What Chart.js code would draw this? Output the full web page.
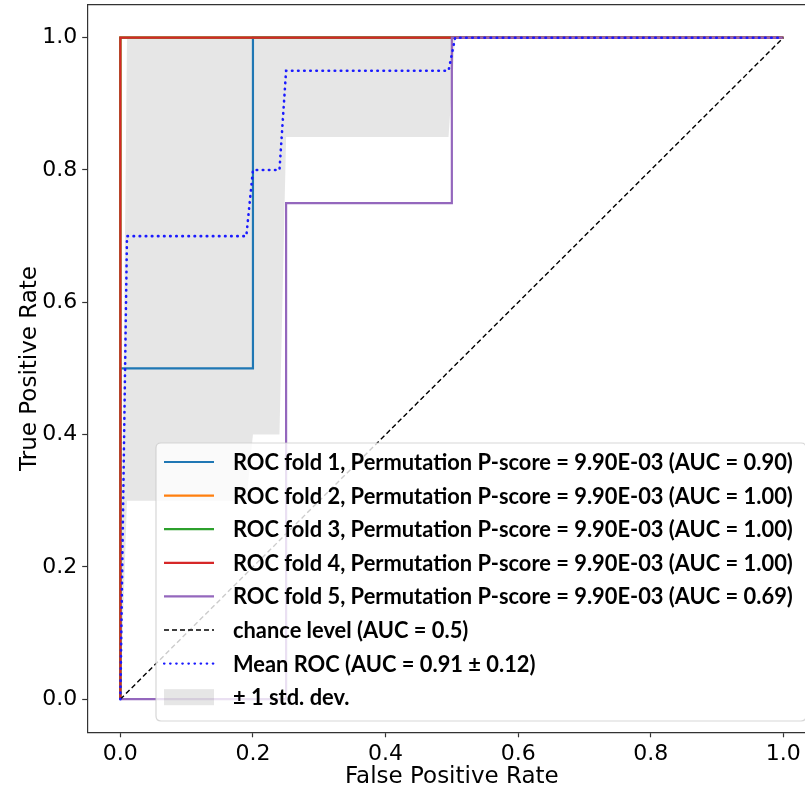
<!DOCTYPE html>
<html><head><meta charset="utf-8">
<script src="https://cdn.jsdelivr.net/npm/chart.js@4.4.0/dist/chart.umd.min.js"></script>
<style>
html,body{margin:0;padding:0;background:#fff;overflow:hidden;width:805px;height:794px}
#wrap{width:840px;height:794px}
</style></head>
<body><div id="wrap"><canvas id="c" width="840" height="794"></canvas></div>
<script>
// ---- data ----
const fold1Fpr = [0, 0, 0.2, 0.2, 1];
const fold1Tpr = [0, 0.5, 0.5, 1, 1];
const fold2Fpr = [0, 0, 1];
const fold2Tpr = [0, 1, 1];
const fold3Fpr = [0, 0, 1];
const fold3Tpr = [0, 1, 1];
const fold4Fpr = [0, 0, 1];
const fold4Tpr = [0, 1, 1];
const fold5Fpr = [0, 0.25, 0.25, 0.5, 0.5, 1];
const fold5Tpr = [0, 0, 0.75, 0.75, 1, 1];
const chanceX = [0, 1];
const chanceY = [0, 1];
const meanFpr = [0, 0.01, 0.19, 0.2, 0.24, 0.25, 0.495, 0.505, 1];
const meanTpr = [0, 0.7, 0.7, 0.8, 0.8, 0.95, 0.95, 1, 1];
const stdUpper = [0, 1, 1, 1, 1, 1, 1, 1, 1];
const stdLower = [0, 0.3, 0.3, 0.4, 0.4, 0.85, 0.85, 1, 1];
const xTicks = [0, 0.2, 0.4, 0.6, 0.8, 1.0];
const yTicks = [0, 0.2, 0.4, 0.6, 0.8, 1.0];
const legendLabels = [
  "ROC fold 1, Permutation P-score = 9.90E-03 (AUC = 0.90)",
  "ROC fold 2, Permutation P-score = 9.90E-03 (AUC = 1.00)",
  "ROC fold 3, Permutation P-score = 9.90E-03 (AUC = 1.00)",
  "ROC fold 4, Permutation P-score = 9.90E-03 (AUC = 1.00)",
  "ROC fold 5, Permutation P-score = 9.90E-03 (AUC = 0.69)",
  "chance level (AUC = 0.5)",
  "Mean ROC (AUC = 0.91 \u00b1 0.12)",
  "\u00b1 1 std. dev."
];
const xTitle = "False Positive Rate";
const yTitle = "True Positive Rate";

// ---- build ----
const pts = (xs, ys) => xs.map((x, i) => ({x: x, y: ys[i]}));
const bandColor = 'rgba(128,128,128,0.2)';
function lineDs(xs, ys, color, order, extra) {
  return Object.assign({
    data: pts(xs, ys), borderColor: color, backgroundColor: color,
    borderWidth: 2.2, pointRadius: 0, fill: false, tension: 0, order: order,
    showLine: true
  }, extra || {});
}
const datasets = [
  lineDs(meanFpr, stdUpper, 'rgba(0,0,0,0)', 100, {fill: '+1', backgroundColor: bandColor, borderWidth: 0, legendIdx: 7}),
  lineDs(meanFpr, stdLower, 'rgba(0,0,0,0)', 101, {borderWidth: 0}),
  lineDs(fold1Fpr, fold1Tpr, '#1f77b4', 9, {legendIdx: 0}),
  lineDs(fold2Fpr, fold2Tpr, '#ff7f0e', 8, {legendIdx: 1}),
  lineDs(fold3Fpr, fold3Tpr, '#2ca02c', 7, {legendIdx: 2}),
  lineDs(fold4Fpr, fold4Tpr, '#d62728', 6, {legendIdx: 3}),
  lineDs(fold5Fpr, fold5Tpr, '#9467bd', 5, {legendIdx: 4}),
  lineDs(chanceX, chanceY, '#000000', 4, {borderWidth: 1.4, borderDash: [5, 3], legendIdx: 5}),
  lineDs(meanFpr, meanTpr, '#1a1aff', 3, {borderWidth: 2.6, borderDash: [0.5, 5.6], borderCapStyle: 'round', legendIdx: 6})
];

const boxPlugin = {
  id: 'box',
  afterDatasetsDraw(chart) {
    const {ctx, chartArea: a} = chart;
    ctx.save();
    ctx.strokeStyle = '#333';
    ctx.lineWidth = 1.2;
    ctx.beginPath();
    ctx.moveTo(a.left, a.top); ctx.lineTo(a.right, a.top); ctx.lineTo(a.right, a.bottom);
    ctx.stroke();
    ctx.restore();
  }
};

const legendPlugin = {
  id: 'boxLegend',
  afterDraw(chart) {
    const ctx = chart.ctx;
    const bx = 156, by = 443, bw = 650, bh = 278, r = 5;
    ctx.save();
    ctx.beginPath();
    ctx.moveTo(bx + r, by); ctx.lineTo(bx + bw - r, by); ctx.quadraticCurveTo(bx + bw, by, bx + bw, by + r);
    ctx.lineTo(bx + bw, by + bh - r); ctx.quadraticCurveTo(bx + bw, by + bh, bx + bw - r, by + bh);
    ctx.lineTo(bx + r, by + bh); ctx.quadraticCurveTo(bx, by + bh, bx, by + bh - r);
    ctx.lineTo(bx, by + r); ctx.quadraticCurveTo(bx, by, bx + r, by);
    ctx.closePath();
    ctx.fillStyle = 'rgba(255,255,255,0.8)';
    ctx.fill();
    ctx.strokeStyle = 'rgba(204,204,204,0.8)';
    ctx.lineWidth = 1.2;
    ctx.stroke();

    let size = 21;
    ctx.font = 'bold ' + size + 'px Lato';
    const w = ctx.measureText(legendLabels[0]).width;
    size = size * 560 / w;
    ctx.font = 'bold ' + size.toFixed(2) + 'px Lato';
    ctx.fillStyle = '#000';
    ctx.textBaseline = 'middle';
    ctx.textAlign = 'left';
    const y0 = 462, step = 33.6, hx0 = 164, hx1 = 214, tx = 233;
    chart.data.datasets.forEach(ds => {
      if (ds.legendIdx === undefined) return;
      const y = y0 + step * ds.legendIdx;
      if (ds.legendIdx === 7) {
        ctx.fillStyle = ds.backgroundColor;
        ctx.fillRect(hx0, y - 8, hx1 - hx0, 16);
      } else {
        ctx.save();
        ctx.strokeStyle = ds.borderColor;
        ctx.lineWidth = ds.legendIdx === 6 ? 2.2 : ds.borderWidth;
        ctx.lineCap = ds.borderCapStyle || 'butt';
        ctx.setLineDash(ds.borderDash || []);
        ctx.beginPath(); ctx.moveTo(hx0, y); ctx.lineTo(hx1, y); ctx.stroke();
        ctx.restore();
      }
      ctx.fillStyle = '#000';
      ctx.fillText(legendLabels[ds.legendIdx], tx, y + 1);
    });
    ctx.restore();
  }
};

const tickFont = {family: 'DejaVu Sans', size: 22};
const titleFont = {family: 'DejaVu Sans', size: 23};
new Chart(document.getElementById('c'), {
  type: 'line',
  data: {datasets: datasets},
  options: {
    responsive: false, animation: false, devicePixelRatio: 1,
    layout: {padding: {top: 4.6, right: 23.5, left: 0, bottom: 0}},
    plugins: {legend: {display: false}, tooltip: {enabled: false}},
    scales: {
      x: {
        type: 'linear', min: -0.05, max: 1.05,
        afterFit: s => { s.height = 61.7; s.paddingLeft = 0; s.paddingRight = 0; },
        afterBuildTicks: s => { s.ticks = xTicks.map(v => ({value: v})); },
        ticks: {font: tickFont, color: '#000', padding: 4, callback: v => Number(v).toFixed(1), maxRotation: 0},
        grid: {drawOnChartArea: false, drawTicks: true, tickLength: 5, tickColor: '#333', tickWidth: 1.2},
        border: {display: true, color: '#333', width: 1.2},
        title: {display: true, text: xTitle, font: titleFont, color: '#000', padding: {top: 0, bottom: 3.2}}
      },
      y: {
        type: 'linear', min: -0.05, max: 1.05,
        afterFit: s => { s.width = 87.2; s.paddingTop = 0; s.paddingBottom = 0; },
        afterBuildTicks: s => { s.ticks = yTicks.map(v => ({value: v})); },
        ticks: {font: tickFont, color: '#000', padding: 5, callback: v => Number(v).toFixed(1)},
        grid: {drawOnChartArea: false, drawTicks: true, tickLength: 5, tickColor: '#333', tickWidth: 1.2},
        border: {display: true, color: '#333', width: 1.2},
        title: {display: true, text: yTitle, font: titleFont, color: '#000', padding: {top: 16, bottom: 0}}
      }
    }
  },
  plugins: [boxPlugin, legendPlugin]
});
</script>
</body></html>
